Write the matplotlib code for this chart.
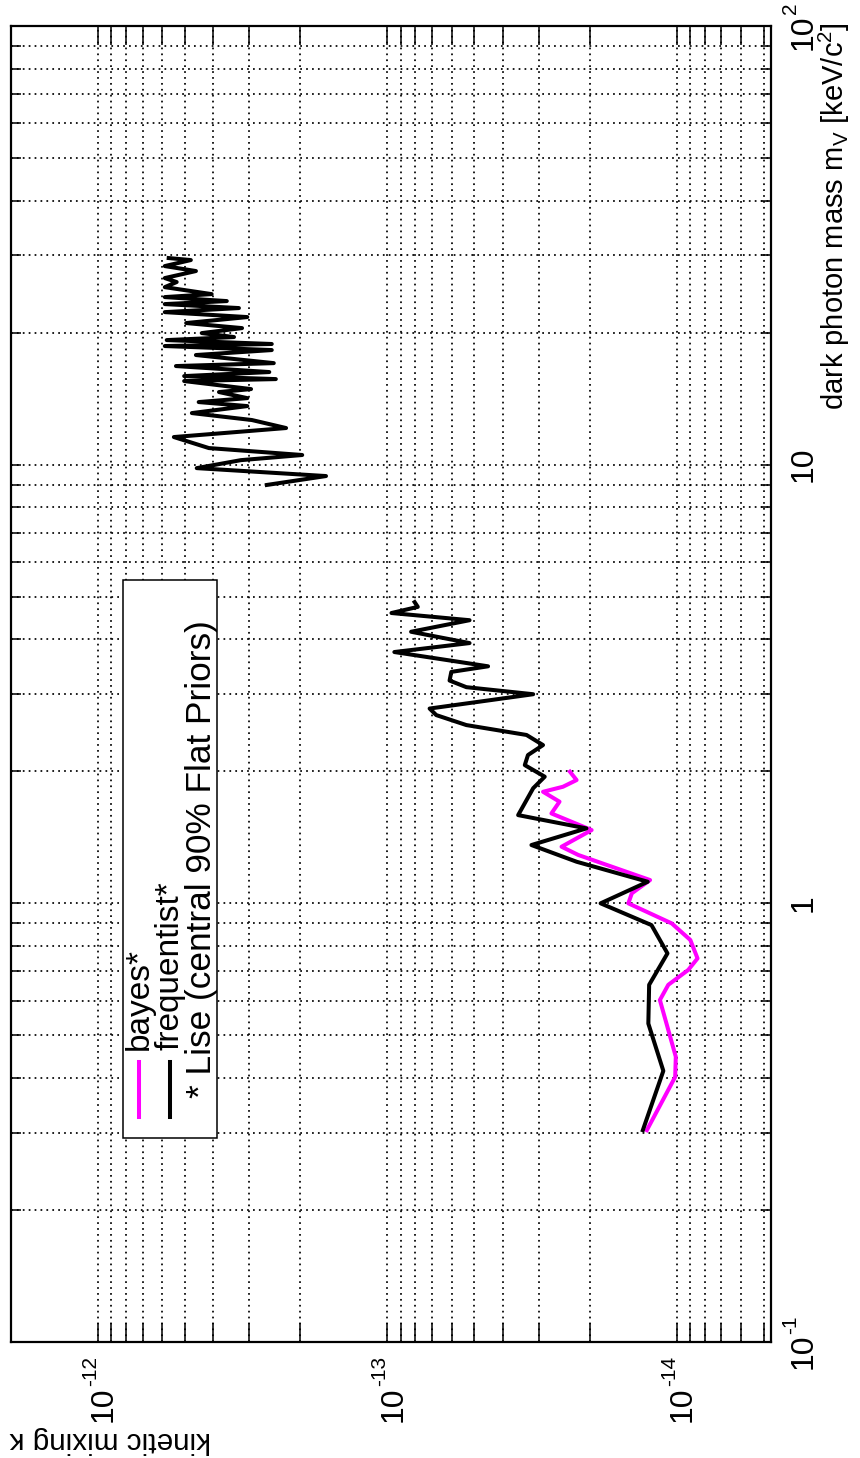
import numpy as np
import matplotlib
matplotlib.use("Agg")
import matplotlib.pyplot as plt
from matplotlib.ticker import LogLocator, NullFormatter, FixedLocator
from matplotlib.patches import Rectangle
from matplotlib.lines import Line2D
from matplotlib.transforms import IdentityTransform

plt.rcParams['font.family'] = ['Liberation Sans', 'DejaVu Sans']
plt.rcParams['mathtext.fontset'] = 'custom'
plt.rcParams['mathtext.rm'] = 'Liberation Sans'
plt.rcParams['mathtext.it'] = 'Liberation Sans'
plt.rcParams['mathtext.default'] = 'regular'

# Bayesian limit (mass in keV/c^2, kinetic mixing)
bayes_mass = [0.304, 0.402, 0.447, 0.602, 0.652, 0.705, 0.749, 0.825, 0.90, 1.0,
              1.054, 1.13, 1.289, 1.346, 1.469, 1.603, 1.705, 1.796, 1.844, 1.91, 1.996]
bayes_kappa = [1.268e-14, 1.012e-14, 1.007e-14, 1.143e-14, 1.069e-14, 9.12e-15, 8.47e-15,
               8.97e-15, 1.040e-14, 1.469e-14, 1.429e-14, 1.236e-14, 2.188e-14, 2.500e-14,
               1.968e-14, 2.710e-14, 2.541e-14, 2.897e-14, 2.472e-14, 2.218e-14, 2.339e-14]

# Frequentist limit, low-mass range
freq_low_mass = [0.304, 0.415, 0.532, 0.652, 0.769, 0.892, 1.0, 1.12, 1.244, 1.358, 1.482,
                 1.589, 1.83, 1.944, 2.066, 2.178, 2.295, 2.42, 2.549, 2.686, 2.78, 2.997,
                 3.11, 3.22, 3.37, 3.47, 3.74, 3.92, 4.16, 4.42, 4.59, 4.74, 4.86]
freq_low_kappa = [1.309e-14, 1.112e-14, 1.253e-14, 1.245e-14, 1.076e-14, 1.222e-14, 1.832e-14,
                  1.259e-14, 2.218e-14, 3.177e-14, 2.051e-14, 3.532e-14, 3.133e-14, 2.858e-14,
                  3.350e-14, 3.266e-14, 2.897e-14, 3.304e-14, 5.333e-14, 6.776e-14, 7.145e-14,
                  3.133e-14, 5.333e-14, 6.095e-14, 6.012e-14, 4.487e-14, 9.46e-14, 5.200e-14,
                  8.28e-14, 5.200e-14, 9.68e-14, 7.85e-14, 8.05e-14]

# Frequentist limit, high-mass range
freq_high_mass = [8.99, 9.42, 9.82, 10.24, 10.52, 10.91, 11.56, 12.12, 12.64, 13.11, 13.60,
                  13.89, 14.18, 14.64, 14.87, 15.51, 15.67, 15.92, 16.26, 16.78, 17.04, 17.78,
                  18.25, 18.64, 18.84, 19.23, 19.54, 19.95, 20.48, 21.03, 21.70, 22.27, 22.75,
                  23.23, 23.60, 24.10, 24.48, 25.39, 26.08, 26.63, 27.63, 28.36, 29.27, 29.58]
freq_high_kappa = [2.61e-13, 1.63e-13, 4.56e-13, 3.21e-13, 1.97e-13, 4.14e-13, 5.47e-13,
                   2.24e-13, 2.94e-13, 4.74e-13, 3.05e-13, 4.49e-13, 3.05e-13, 3.82e-13,
                   2.96e-13, 5.04e-13, 2.43e-13, 5.04e-13, 2.56e-13, 5.38e-13, 2.47e-13,
                   4.59e-13, 2.51e-13, 5.88e-13, 2.51e-13, 5.79e-13, 3.39e-13, 4.38e-13,
                   3.18e-13, 4.96e-13, 3.05e-13, 5.88e-13, 3.26e-13, 5.88e-13, 3.59e-13,
                   5.88e-13, 4.05e-13, 5.88e-13, 5.35e-13, 5.88e-13, 4.59e-13, 5.88e-13,
                   4.78e-13, 5.70e-13]

mass_ticks = [0.1, 1, 10, 100]
mass_tick_parts = [('10', '-1'), ('1', ''), ('10', ''), ('10', '2')]
kappa_ticks = [1e-12, 1e-13, 1e-14]
kappa_tick_parts = [('10', '-12'), ('10', '-13'), ('10', '-14')]

legend_labels = ['bayes*', 'frequentist*', '* Lise (central 90% Flat Priors)']
x_label = r'dark photon mass m$_V$ [keV/c$^2$]'
y_label = 'kinetic mixing κ'

MAGENTA = '#ff00ff'
LW = 2.9

W, H = 860, 1458
fig = plt.figure(figsize=(W / 100, H / 100), dpi=100)
L, R, T, B = 11, 771, 26, 1342
ax = fig.add_axes([L / W, 1 - B / H, (R - L) / W, (B - T) / H])

ax.plot(bayes_kappa, bayes_mass, color=MAGENTA, lw=LW, zorder=3)
ax.plot(freq_low_kappa, freq_low_mass, color='black', lw=LW, zorder=4)
ax.plot(freq_high_kappa, freq_high_mass, color='black', lw=LW, zorder=4)

ax.set_xscale('log')
ax.set_yscale('log')
ax.set_xlim(2e-12, 4.72e-15)
ax.set_ylim(0.1, 100)

ax.xaxis.set_major_locator(FixedLocator(kappa_ticks))
ax.xaxis.set_minor_locator(LogLocator(base=10, subs=np.arange(2, 10)))
ax.yaxis.set_major_locator(FixedLocator(mass_ticks))
ax.yaxis.set_minor_locator(LogLocator(base=10, subs=np.arange(2, 10)))
for axis in (ax.xaxis, ax.yaxis):
    axis.set_minor_formatter(NullFormatter())
    axis.set_major_formatter(NullFormatter())

ax.grid(True, which='both', color='black', linestyle=(0, (1, 2.4)), linewidth=1.25)
ax.set_axisbelow(True)

ax.tick_params(axis='both', which='both', direction='in', top=True, right=True,
               left=True, bottom=True, width=1.1, colors='black',
               labelbottom=False, labelleft=False)
ax.tick_params(axis='x', which='both', length=14)
ax.tick_params(axis='y', which='both', length=7)
for sp in ax.spines.values():
    sp.set_linewidth(1.6)

# Power-of-ten labels drawn as base + raised exponent, rotated with the page
BASE_FS, EXP_FS = 23, 15
renderer = fig.canvas.get_renderer()


def rot_text(x, y, s, fs):
    return fig.text(x, y, s, rotation=90, rotation_mode='anchor', ha='left',
                    va='baseline', fontsize=fs, transform=IdentityTransform())


def text_len(t):
    return t.get_window_extent(renderer).height


def power_label(base_x, start_y, base, exp, centered):
    probe_b = rot_text(0, 0, base, BASE_FS)
    lb = text_len(probe_b)
    probe_b.remove()
    le = 0
    if exp:
        probe_e = rot_text(0, 0, exp, EXP_FS)
        le = text_len(probe_e)
        probe_e.remove()
    y0 = start_y - (lb + le) / 2 if centered else start_y
    rot_text(base_x, y0, base, BASE_FS)
    if exp:
        rot_text(base_x - 16, y0 + lb, exp, EXP_FS)


ax_bottom = H - B
for k, (base, exp) in zip(kappa_ticks, kappa_tick_parts):
    xp = ax.transData.transform((k, 1.0))[0]
    power_label(xp + 14, ax_bottom - 80, base, exp, centered=False)

for m, (base, exp) in zip(mass_ticks, mass_tick_parts):
    yp = ax.transData.transform((1e-13, m))[1]
    power_label(812, yp, base, exp, centered=True)


def fx(px):
    return px / W


def fy(py):
    return 1 - py / H


# Legend box
fig.patches.append(Rectangle((fx(123), fy(1138)), fx(217) - fx(123), fy(580) - fy(1138),
                             transform=fig.transFigure, facecolor='white',
                             edgecolor='black', linewidth=1.1, zorder=5))
for xc, col in [(139, MAGENTA), (170, 'black')]:
    fig.lines.append(Line2D([fx(xc), fx(xc)], [fy(1117), fy(1062)],
                            transform=fig.transFigure, color=col, lw=LW, zorder=6))
fig.text(fx(139), fy(1050), legend_labels[0], rotation=90, ha='center', va='bottom',
         fontsize=24, zorder=7)
fig.text(fx(170), fy(1050), legend_labels[1], rotation=90, ha='center', va='bottom',
         fontsize=24, zorder=7)
fig.text(fx(202), fy(1098), legend_labels[2], rotation=90, ha='center', va='bottom',
         fontsize=25.4, zorder=7)

fig.text(fx(834), fy(410), x_label, rotation=90, ha='center', va='bottom', fontsize=21)
fig.text(fx(10), fy(1440), y_label, rotation=180, ha='left', va='center', fontsize=21.4)

fig.savefig('out.png', dpi=100, facecolor='white')
